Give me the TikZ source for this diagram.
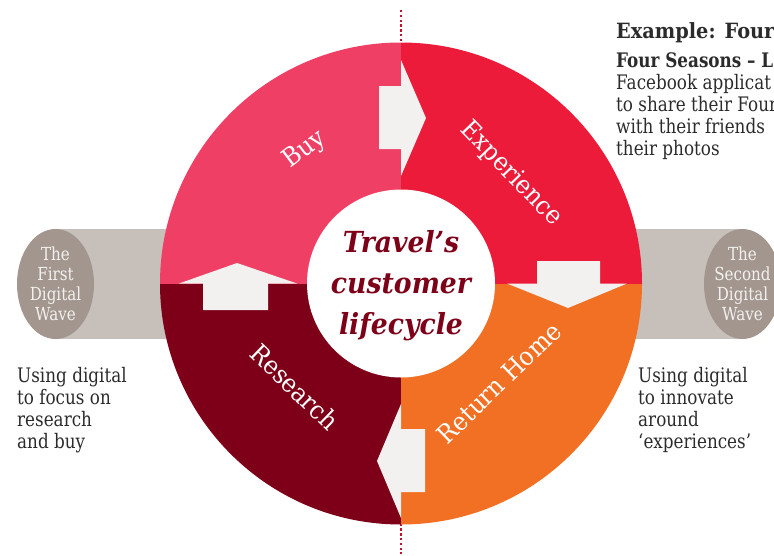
\documentclass[tikz,border=0pt]{standalone}
\usepackage{fontspec}
\setmainfont[FakeStretch=0.84]{DejaVu Serif}
\newfontfamily\widefont[FakeStretch=0.92]{DejaVu Serif}
\definecolor{buyc}{HTML}{F03F64}
\definecolor{expc}{HTML}{ED1B3A}
\definecolor{retc}{HTML}{F27023}
\definecolor{resc}{HTML}{7D0018}
\definecolor{arrc}{HTML}{F3F1EF}
\definecolor{bandc}{HTML}{C7BFB9}
\definecolor{wavec}{HTML}{A2968E}
\definecolor{textc}{HTML}{2B2B2B}
\definecolor{dotc}{HTML}{C8102E}
\tikzset{
  dotline/.style={draw=dotc, line width=2.2pt, dash pattern=on 2.4pt off 2.4pt},
  bodytext/.style={inner sep=0pt, anchor=north west, align=left, text=textc, font=\fontsize{20}{22}\selectfont},
  wavetext/.style={inner sep=0pt, align=center, text=arrc, font=\fontsize{18}{20}\selectfont},
  ringlabel/.style={inner sep=0pt, text=white, font=\widefont\fontsize{25.5}{30}\selectfont},
  titletext/.style={inner sep=0pt, align=center, text=resc, font=\widefont\fontsize{29}{41}\selectfont\bfseries\itshape},
  arrowshape/.style={fill=arrc}
}
\begin{document}
\begin{tikzpicture}[x=1pt,y=-1pt]
\useasboundingbox (0,0) rectangle (774,555);
\clip (0,0) rectangle (774,555);
\coordinate (C) at (401,283.5);
% dotted axis
\coordinate (dtop) at (401,10);
\coordinate (dbot) at (401,554);
\draw[dotline] (dtop) -- (dbot);
% digital wave bands
\fill[bandc] (55.5,229) rectangle (250,339);
\fill[bandc] (550,229) rectangle (742.5,339);
\fill[wavec] (55.5,284) ellipse [x radius=38.5, y radius=55];
\fill[wavec] (742.5,284) ellipse [x radius=38.5, y radius=55];
\node[wavetext] (wave1) at (55.5,284) {The\\First\\Digital\\Wave};
\node[wavetext] (wave2) at (742.5,284) {The\\Second\\Digital\\Wave};
% ring quadrants
\begin{scope}
  \clip (C) circle [radius=241];
  \fill[buyc] (150,30) rectangle (401,283.5);
  \fill[expc] (401,30) rectangle (650,283.5);
  \fill[retc] (401,283.5) rectangle (650,540);
  \fill[resc] (150,283.5) rectangle (401,540);
\end{scope}
% arrows
\fill[arrowshape] (379,86) -- (401,86) -- (401,60) -- (426,118) -- (401,176) -- (401,149) -- (379,149) -- cycle;
\fill[arrowshape] (537,261) -- (600,261) -- (600,283.5) -- (627,283.5) -- (568,308) -- (507,283.5) -- (537,283.5) -- cycle;
\fill[arrowshape] (425,429) -- (425,492) -- (401,492) -- (401,518) -- (377,461) -- (401,404) -- (401,429) -- cycle;
\fill[arrowshape] (203,310) -- (268,310) -- (268,283.5) -- (297,283.5) -- (237,263) -- (179,283.5) -- (203,283.5) -- cycle;
% centre
\fill[white] (C) circle [radius=94];
\node[titletext] (title) at (401,286) {Travel’s\\customer\\lifecycle};
% ring labels
\node[ringlabel, rotate=37] (buy) at (305,150) {Buy};
\node[ringlabel, rotate=-46] (exp) at (511,174) {Experience};
\node[ringlabel, rotate=-44] (res) at (295,387) {Research};
\node[ringlabel, rotate=44] (ret) at (499,383) {Return Home};
% side texts
\node[bodytext] (lefttext) at (17,367) {Using digital\\to focus on\\research\\and buy};
\node[bodytext] (righttext) at (638,367) {Using digital\\to innovate\\around\\‘experiences’};
% example text
\node[bodytext, font=\widefont\fontsize{21}{24}\selectfont\bfseries] (exhead) at (616,22) {Example: Four};
\node[bodytext] (exbody) at (616,52) {\textbf{Four Seasons – L}\\Facebook applicat\\to share their Four\\with their friends\\their photos};
\end{tikzpicture}
\end{document}
